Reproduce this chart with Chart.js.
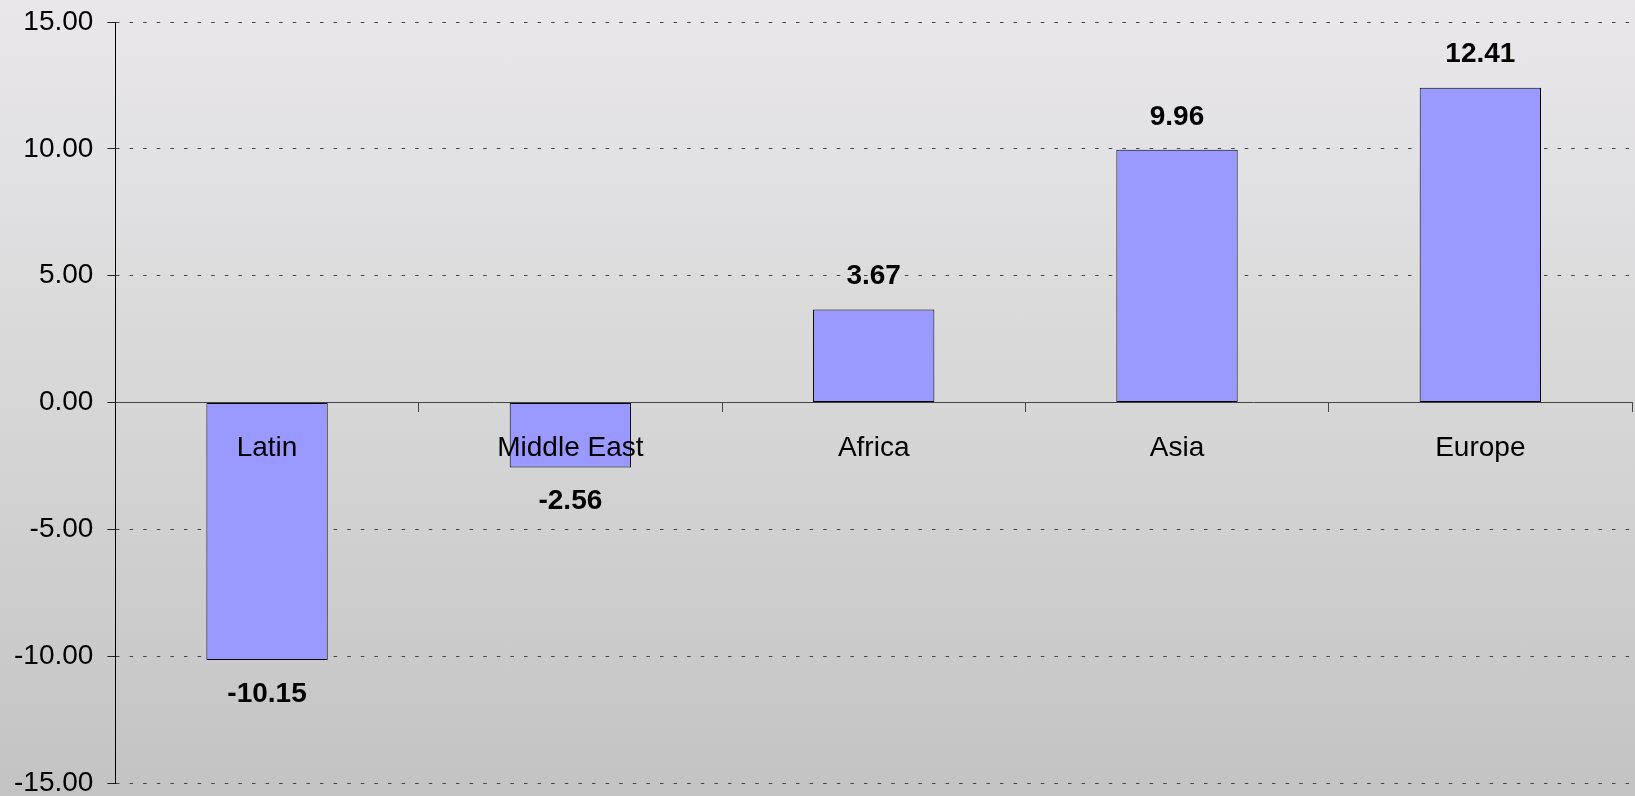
<!DOCTYPE html>
<html>
<head>
<meta charset="utf-8">
<script src="https://cdn.jsdelivr.net/npm/chart.js@4.4.1/dist/chart.umd.min.js"></script>
<style>
  html, body { margin: 0; padding: 0; }
  body {
    width: 1635px;
    height: 796px;
    overflow: hidden;
    background: linear-gradient(to bottom, #e9e7eb 0%, #d7d7d7 50%, #c3c3c3 100%);
  }
  canvas { display: block; }
</style>
</head>
<body>
<canvas id="chart" width="1635" height="796"></canvas>
<script>
// Regional values
const regions = ["Latin", "Middle East", "Africa", "Asia", "Europe"];
const values  = [-10.15, -2.56, 3.67, 9.96, 12.41];
const yTicks  = [-15, -10, -5, 0, 5, 10, 15];

const FONT = '"Liberation Sans", Arial, sans-serif';

// Bold value printed above positive bars and below negative ones
const valueLabels = {
  id: "valueLabels",
  afterDatasetsDraw(chart) {
    const ctx = chart.ctx;
    const meta = chart.getDatasetMeta(0);
    ctx.save();
    ctx.font = "bold 28px " + FONT;
    ctx.fillStyle = "#000";
    ctx.textAlign = "center";
    ctx.textBaseline = "middle";
    meta.data.forEach((bar, i) => {
      const v = values[i];
      const y = v >= 0 ? bar.y - 33 : bar.y + 34;
      ctx.fillText(v.toFixed(2), bar.x, y);
    });
    ctx.restore();
  }
};

new Chart(document.getElementById("chart").getContext("2d"), {
  type: "bar",
  data: {
    labels: regions,
    datasets: [{
      data: values,
      backgroundColor: "#9999ff",
      borderColor: "#000",
      borderWidth: 1,
      borderSkipped: false,
      categoryPercentage: 1,
      barPercentage: 0.40,
    }]
  },
  options: {
    responsive: false,
    animation: false,
    layout: { padding: { left: 0, top: 22, right: 3, bottom: 13 } },
    plugins: {
      legend: { display: false },
      tooltip: { enabled: false }
    },
    scales: {
      x: {
        position: { y: 0 },
        offset: true,
        grid: {
          offset: true,
          drawOnChartArea: false,
          tickLength: 9,
          tickColor: "#444",
          tickBorderDash: [],
        },
        border: { color: "#444", width: 1 },
        ticks: {
          z: 1,
          color: "#000",
          padding: 20,
          maxRotation: 0,
          autoSkip: false,
          font: { family: FONT, size: 28 },
        },
      },
      y: {
        min: -15,
        max: 15,
        afterBuildTicks: axis => { axis.ticks = yTicks.map(v => ({ value: v })); },
        // let layout.padding alone decide the top and bottom edges
        afterFit: axis => { axis.paddingTop = 0; axis.paddingBottom = 0; },
        grid: {
          color: "#444",
          lineWidth: 1,
          tickLength: 8,
          tickColor: "#222",
          tickBorderDash: [],
        },
        border: { color: "#000", width: 1, dash: [3.5, 10.1] },
        ticks: {
          color: "#000",
          padding: 14,
          font: { family: FONT, size: 28 },
          callback: v => v.toFixed(2),
        },
      }
    }
  },
  plugins: [valueLabels]
});
</script>
</body>
</html>
